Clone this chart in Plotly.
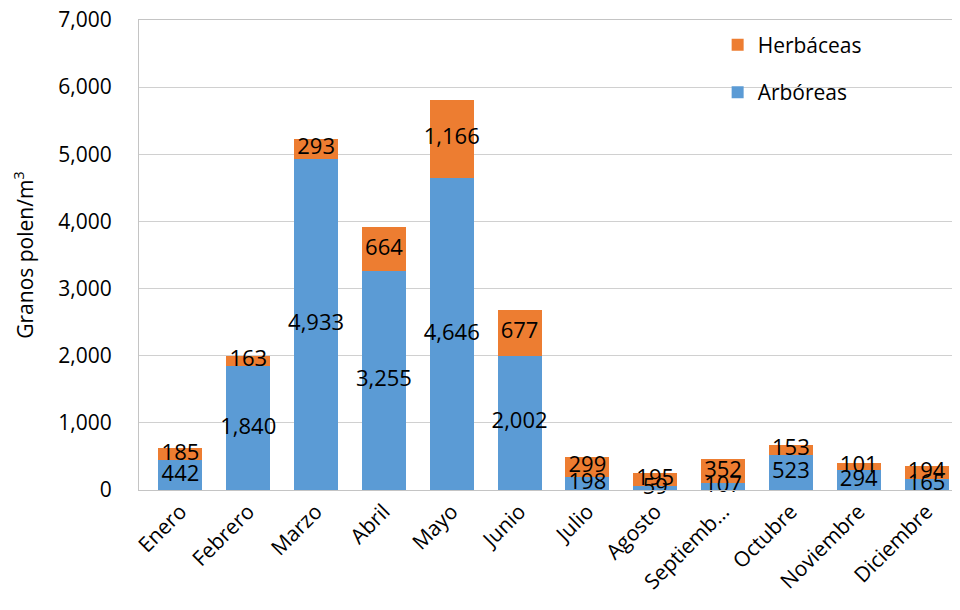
import plotly.graph_objects as go

months = ["Enero", "Febrero", "Marzo", "Abril", "Mayo", "Junio", "Julio",
          "Agosto", "Septiemb…", "Octubre", "Noviembre", "Diciembre"]
arboreas = [442, 1840, 4933, 3255, 4646, 2002, 198, 59, 107, 523, 294, 165]
herbaceas = [185, 163, 293, 664, 1166, 677, 299, 195, 352, 153, 101, 194]
y_ticks = [0, 1000, 2000, 3000, 4000, 5000, 6000, 7000]

FONT = "Open Sans"
BLUE = "#5B9BD5"
ORANGE = "#ED7D31"

fig = go.Figure()
fig.add_trace(go.Bar(
    name="Arbóreas", x=months, y=arboreas, marker_color=BLUE,
    marker_line_width=0, legendgroup="a", legendrank=2,
))
fig.add_trace(go.Bar(
    name="Herbáceas", x=months, y=herbaceas, marker_color=ORANGE,
    marker_line_width=0, legendgroup="h", legendrank=1,
))

# data labels centred in each stacked segment
arb_mid = [a / 2 for a in arboreas]
herb_mid = [a + h / 2 for a, h in zip(arboreas, herbaceas)]
fig.add_trace(go.Scatter(
    x=months, y=arb_mid, mode="text", text=[f"{v:,}" for v in arboreas],
    textposition="middle center", textfont=dict(color="black", size=22, family=FONT),
    showlegend=False, cliponaxis=False, hoverinfo="skip",
))
fig.add_trace(go.Scatter(
    x=months, y=herb_mid, mode="text", text=[f"{v:,}" for v in herbaceas],
    textposition="middle center", textfont=dict(color="black", size=22, family=FONT),
    showlegend=False, cliponaxis=False, hoverinfo="skip",
))

fig.update_layout(
    barmode="stack", bargap=0.35,
    width=960, height=610,
    margin=dict(l=131, r=0, t=12, b=128),
    paper_bgcolor="white", plot_bgcolor="white",
    font=dict(family=FONT, size=20, color="black"),
    showlegend=True,
    legend=dict(x=0.698, y=0.99, xanchor="left", yanchor="top",
                traceorder="grouped", tracegroupgap=17,
                font=dict(size=21, family=FONT), bgcolor="rgba(0,0,0,0)"),
)
fig.update_yaxes(
    range=[0, 7000], tickvals=y_ticks, tickformat=",",
    showgrid=True, gridcolor="#D0D0D0", gridwidth=1,
    showline=True, linecolor="#C4C4C4", linewidth=1,
    zeroline=False, ticks="", ticklabelstandoff=22, automargin=False,
    ticklabeloverflow="allow",
    tickfont=dict(size=21, family=FONT),
    title=dict(text="Granos polen/m<sup>3</sup>", font=dict(size=21, family=FONT), standoff=19),
)
fig.update_xaxes(
    tickangle=-45, showline=True, linecolor="#C4C4C4", linewidth=1, mirror=True,
    tickfont=dict(size=21, family=FONT), ticks="", automargin=False,
    ticklabeloverflow="allow",
)

fig.write_html("out.html")
